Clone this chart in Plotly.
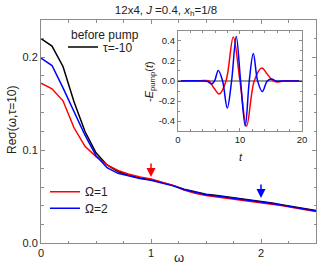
import plotly.graph_objects as go

# ---- main panel data ----
omega = [0.0, 0.1, 0.2, 0.3, 0.4, 0.5, 0.6, 0.7, 0.8, 0.9, 1.0, 1.1, 1.2, 1.3,
         1.4, 1.5, 1.6, 1.7, 1.8, 1.9, 2.0, 2.1, 2.2, 2.3, 2.4, 2.5]
sigma_before = [0.220, 0.212, 0.190, 0.152, 0.120, 0.097, 0.084, 0.077, 0.073, 0.070,
                0.068, 0.065, 0.062, 0.058, 0.055, 0.0525, 0.051, 0.0495, 0.048, 0.0465,
                0.045, 0.043, 0.041, 0.039, 0.037, 0.035]
sigma_om1 = [0.172, 0.166, 0.153, 0.124, 0.104, 0.093, 0.084, 0.078, 0.074, 0.071,
             0.069, 0.0655, 0.062, 0.057, 0.0535, 0.051, 0.0495, 0.048, 0.0465, 0.045,
             0.0435, 0.042, 0.040, 0.038, 0.036, 0.034]
sigma_om2 = [0.199, 0.191, 0.167, 0.142, 0.116, 0.094, 0.081, 0.075, 0.072, 0.0695,
             0.0675, 0.0645, 0.0615, 0.0575, 0.0545, 0.052, 0.0505, 0.049, 0.0475, 0.046,
             0.0445, 0.0425, 0.0405, 0.0385, 0.0365, 0.0345]

# ---- inset data ----
t_red = [0, 3, 4.2, 5.0, 5.8, 6.67, 7.75, 8.92, 10.0, 11.07, 12.3, 13.5, 14.5, 15.4, 16.2, 17, 20]
e_red = [0, 0, 0.005, 0.0, -0.07, -0.13, 0.0, 0.44, 0.0, -0.45, 0.0, 0.13, 0.06, 0.0, -0.01, 0, 0]
t_blue = [0, 4, 4.8, 5.4, 5.9, 6.5, 7.2, 7.95, 8.65, 9.4, 10.1, 10.85, 11.5, 12.15, 12.85,
          13.6, 14.4, 15.1, 15.8, 17, 20]
e_blue = [0, 0, -0.005, -0.03, 0.0, 0.105, 0.0, -0.27, 0.0, 0.445, 0.0, -0.45, 0.0, 0.275, 0.0,
          -0.105, 0.0, 0.02, 0.0, 0, 0]
t_zero = [0, 20]
e_zero = [0, 0]

arrow_omegas = [1.0, 2.0]
arrow_tips = [0.071, 0.0485]

RED = "#ff0000"
BLUE = "#0000ff"
FONT = "Liberation Sans, Arial, sans-serif"
AXC = "#8c8c8c"
TXT = "#222222"

fig = go.Figure()
fig.add_trace(go.Scatter(x=omega, y=sigma_before, mode="lines", name="τ=-10",
                         line=dict(color="black", width=1.5), legend="legend"))
fig.add_trace(go.Scatter(x=omega, y=sigma_om1, mode="lines", name="Ω=1",
                         line=dict(color=RED, width=1.5), legend="legend2"))
fig.add_trace(go.Scatter(x=omega, y=sigma_om2, mode="lines", name="Ω=2",
                         line=dict(color=BLUE, width=1.5), legend="legend3"))

fig.add_trace(go.Scatter(x=t_zero, y=e_zero, mode="lines", showlegend=False,
                         line=dict(color="#333333", width=1), xaxis="x2", yaxis="y2"))
fig.add_trace(go.Scatter(x=t_red, y=e_red, mode="lines", showlegend=False,
                         line=dict(color=RED, width=1.5, shape="spline", smoothing=1.0),
                         xaxis="x2", yaxis="y2"))
fig.add_trace(go.Scatter(x=t_blue, y=e_blue, mode="lines", showlegend=False,
                         line=dict(color=BLUE, width=1.5, shape="spline", smoothing=1.0),
                         xaxis="x2", yaxis="y2"))

for om, tip, col in zip(arrow_omegas, arrow_tips, [RED, BLUE]):
    fig.add_annotation(x=om, y=tip, xref="x", yref="y", ax=0, ay=-15, axref="pixel",
                       ayref="pixel", showarrow=True, arrowhead=2, arrowsize=1.2,
                       arrowwidth=1.5, arrowcolor=col, text="")

# axis titles and legend heading as text annotations
labels = [
    dict(text="Reσ(ω,τ=10)", x=-0.105, y=0.552, textangle=-90, size=12),
    dict(text="ω", x=0.502, y=-0.067, textangle=0, size=13),
    dict(text="<i>t</i>", x=0.726, y=0.387, textangle=0, size=11),
    dict(text="-<i>E</i><sub>pump</sub>(<i>t</i>)", x=0.396, y=0.726, textangle=-90, size=11),
]
for lb in labels:
    fig.add_annotation(text=lb["text"], x=lb["x"], y=lb["y"], xref="paper", yref="paper",
                       xanchor="center", yanchor="middle", textangle=lb["textangle"],
                       showarrow=False, font=dict(size=lb["size"], color=TXT))
fig.add_annotation(text="before pump", x=0.102, y=0.933, xref="paper", yref="paper",
                   xanchor="left", yanchor="middle", showarrow=False,
                   font=dict(size=12, color=TXT))

axis_common = dict(showline=True, linecolor=AXC, linewidth=1, mirror="ticks",
                   ticks="inside", tickcolor=AXC, ticklen=4, showgrid=False,
                   zeroline=False, automargin=False, tickfont=dict(size=11, color=TXT))
inset_common = {**axis_common, "tickfont": dict(size=9.5, color=TXT), "ticklen": 3}

leg_common = dict(xanchor="left", yanchor="middle", bgcolor="rgba(0,0,0,0)",
                  font=dict(size=12, color=TXT), itemwidth=30, borderwidth=0)

fig.update_layout(
    width=317, height=276,
    margin=dict(l=41, r=1, t=20, b=33),
    paper_bgcolor="white", plot_bgcolor="white",
    font=dict(family=FONT, color=TXT),
    title=dict(text="12x4, <i>J</i> =0.4, <i>x</i><sub>h</sub>=1/8", x=166/317, xanchor="center",
               y=0.965, yanchor="middle", font=dict(size=11.5, color=TXT)),
    xaxis=dict(range=[0, 2.5], tickvals=[0, 1, 2], ticktext=["0", "1", "2"],
               minor=dict(dtick=0.25, ticks="inside", ticklen=2.5, tickcolor=AXC),
               **axis_common),
    yaxis=dict(range=[0, 0.24], tickvals=[0, 0.1, 0.2], ticktext=["0.0", "0.1", "0.2"],
               minor=dict(dtick=0.02, ticks="inside", ticklen=2.5, tickcolor=AXC),
               **axis_common),
    xaxis2=dict(domain=[0.498, 0.949], anchor="y2", range=[0, 20], tickvals=[0, 10, 20],
                minor=dict(dtick=2, ticks="inside", ticklen=2, tickcolor=AXC),
                **inset_common),
    yaxis2=dict(domain=[0.502, 0.951], anchor="x2", range=[-0.5, 0.5],
                tickvals=[-0.4, -0.2, 0, 0.2, 0.4], ticktext=["-0.4", "-0.2", "0.0", "0.2", "0.4"],
                minor=dict(dtick=0.1, ticks="inside", ticklen=2, tickcolor=AXC),
                **inset_common),
    legend=dict(x=22 / 275, y=0.879, **leg_common),
    legend2=dict(x=4 / 275, y=0.230, **leg_common),
    legend3=dict(x=4 / 275, y=0.156, **leg_common),
    showlegend=True,
    hovermode=False,
)

fig.write_html("out.html", config={"displayModeBar": False, "staticPlot": True},
               post_script="document.body.style.margin='0px';")
